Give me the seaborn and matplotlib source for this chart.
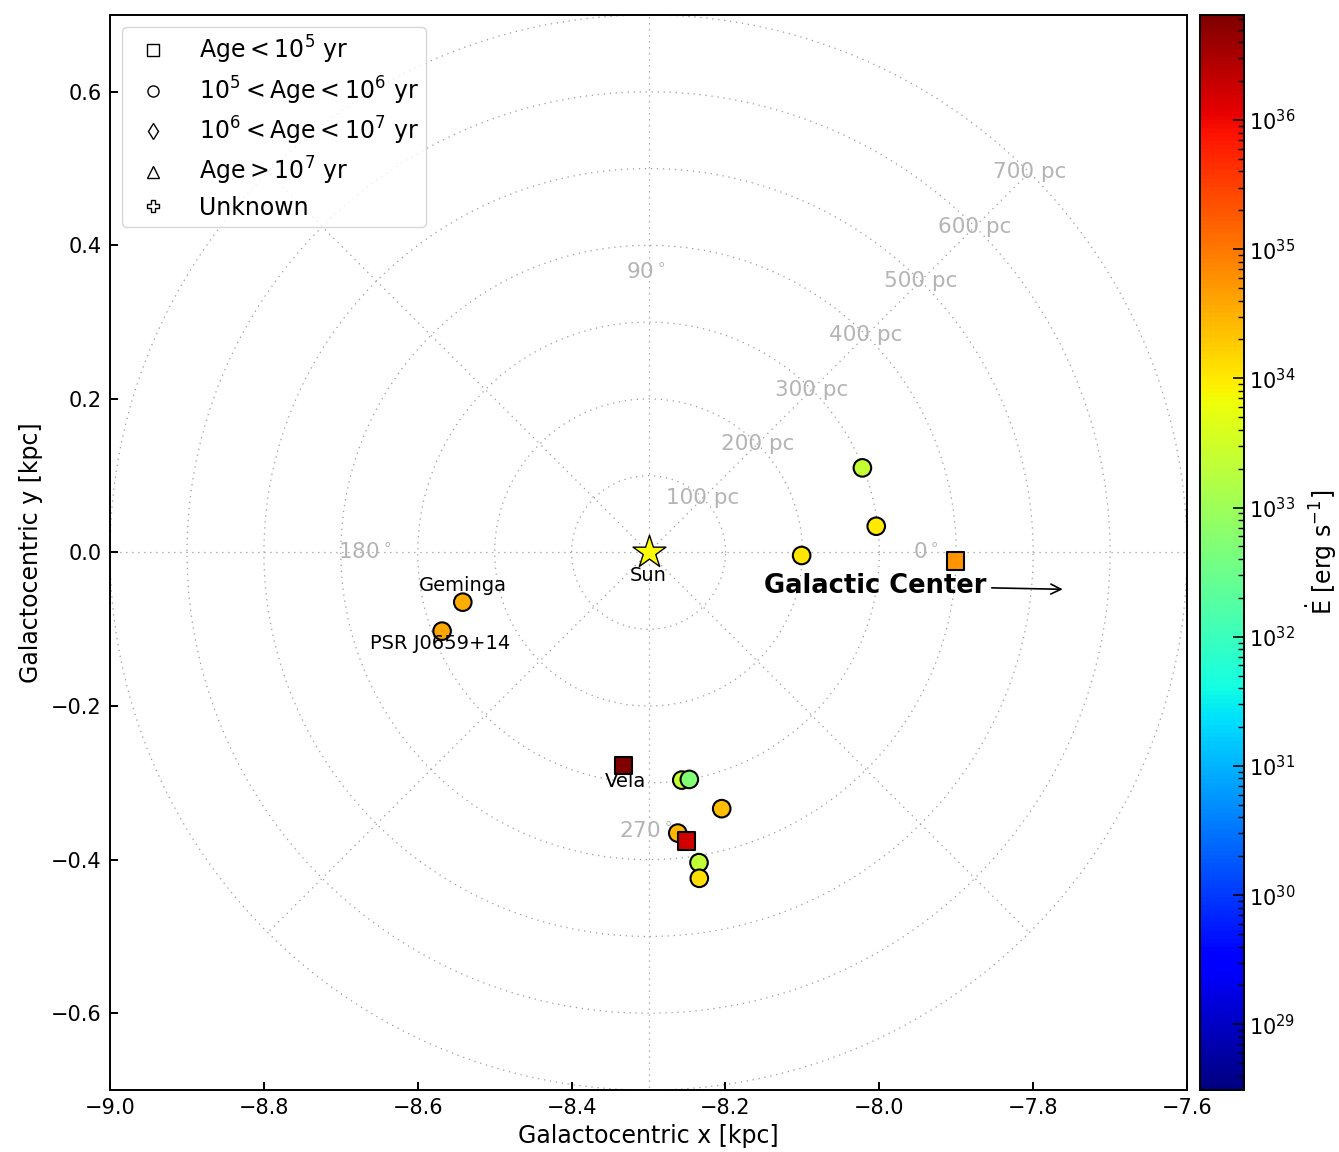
import numpy as np
import pandas as pd
import matplotlib
matplotlib.use("Agg")
import matplotlib.pyplot as plt
import matplotlib.colors as mcolors
from matplotlib.lines import Line2D
import seaborn as sns

# ---------------- data ----------------
gal_x = [-8.022, -8.004, -8.101, -7.901, -8.5415, -8.5684, -8.3328,
         -8.2568, -8.2470, -8.2049, -8.2620, -8.2504, -8.2344, -8.2340]
gal_y = [0.1102, 0.0342, -0.0039, -0.0113, -0.0647, -0.1024, -0.2772,
         -0.2964, -0.2955, -0.3336, -0.3654, -0.3758, -0.4039, -0.4243]
edot = [2.5e33, 1.0e34, 1.1e34, 5.6e34, 3.2e34, 3.8e34, 6.9e36,
        2.5e33, 5.0e32, 2.5e34, 2.8e34, 1.6e36, 2.2e33, 1.3e34]
age_class = ["1e5-1e6", "1e5-1e6", "1e5-1e6", "<1e5", "1e5-1e6", "1e5-1e6", "<1e5",
             "1e5-1e6", "1e5-1e6", "1e5-1e6", "1e5-1e6", "<1e5", "1e5-1e6", "1e5-1e6"]

named_names = ["Geminga", "PSR J0659+14", "Vela", "Sun"]
named_x = [-8.5415, -8.5715, -8.330, -8.3]
named_y = [-0.043, -0.118, -0.298, -0.030]

sun_x, sun_y = [-8.3], [0.0]
ring_radii_pc = [100, 200, 300, 400, 500, 600, 700]
angle_labels = ["0$^\\circ$", "90$^\\circ$", "180$^\\circ$", "270$^\\circ$"]
angle_label_x = [-7.94, -8.304, -8.669, -8.304]
angle_label_y = [0.0, 0.364, 0.0, -0.364]

x_ticks = [-9.0, -8.8, -8.6, -8.4, -8.2, -8.0, -7.8, -7.6]
y_ticks = [-0.6, -0.4, -0.2, 0.0, 0.2, 0.4, 0.6]
legend_labels = [r"Age$<10^5$ yr", r"$10^5<$Age$<10^6$ yr", r"$10^6<$Age$<10^7$ yr",
                 r"Age$>10^7$ yr", "Unknown"]
legend_markers = ["s", "o", "d", "^", "P"]
vmin, vmax = 3.1e28, 6.5e36

df = pd.DataFrame({"x": gal_x, "y": gal_y, "edot": edot, "age": age_class})

# ---------------- figure ----------------
fig = plt.figure(figsize=(13.39, 11.52), dpi=100)
ax = fig.add_axes([0.0822, 0.0538, 0.8043, 0.9332])
cax = fig.add_axes([0.8962, 0.0538, 0.0329, 0.9332])

ax.set_xlim(-9.0, -7.6)
ax.set_ylim(-0.7, 0.7)

grid_col = "#9a9a9a"
grid_ls = (0, (1, 3.8))
# rings
th = np.linspace(0, 2 * np.pi, 720)
for r_pc in ring_radii_pc:
    r = r_pc / 1000.0
    ax.plot(sun_x[0] + r * np.cos(th), sun_y[0] + r * np.sin(th), ls=grid_ls,
            color=grid_col, lw=0.9, zorder=1)
    a = np.deg2rad(45)
    ax.text(sun_x[0] + r * np.cos(a), sun_y[0] + r * np.sin(a), f"{r_pc} pc",
            color="#b4b4b4", fontsize=15.5, ha="center", va="center", zorder=2)
# spokes
rmax = ring_radii_pc[-1] / 1000.0
for ang in range(0, 360, 45):
    a = np.deg2rad(ang)
    ax.plot([sun_x[0], sun_x[0] + rmax * np.cos(a)],
            [sun_y[0], sun_y[0] + rmax * np.sin(a)],
            ls=grid_ls, color=grid_col, lw=0.9, zorder=1)
for lab, lx, ly in zip(angle_labels, angle_label_x, angle_label_y):
    ax.text(lx, ly, lab, color="#b4b4b4", fontsize=15.5, ha="center", va="center", zorder=2)

norm = mcolors.LogNorm(vmin=vmin, vmax=vmax)
cmap = matplotlib.colormaps["jet"]

sns.scatterplot(data=df, x="x", y="y", hue="edot", hue_norm=norm, palette=cmap,
                style="age", markers={"<1e5": "s", "1e5-1e6": "o"},
                s=160, edgecolor="black", linewidth=1.5, legend=False, ax=ax, zorder=5)

# Sun
ax.scatter(sun_x, sun_y, marker="*", s=620, color="yellow", edgecolor="black",
           linewidth=1.0, zorder=6)

for name, nx, ny in zip(named_names, named_x, named_y):
    ax.text(nx, ny, name, fontsize=14, ha="center", va="center", zorder=7)

ax.annotate("Galactic Center", xy=(-7.758, -0.048), xytext=(-8.0056, -0.043),
            fontsize=18.5, fontweight="bold", ha="center", va="center",
            arrowprops=dict(arrowstyle="->", color="black", lw=1.2,
                            mutation_scale=18), zorder=7)

ax.set_xticks(x_ticks)
ax.set_yticks(y_ticks)
ax.set_xticklabels([f"{v:.1f}".replace("-", "\u2212") for v in x_ticks])
ax.set_yticklabels([f"{v:.1f}".replace("-", "\u2212") for v in y_ticks])
ax.tick_params(direction="in", length=6, width=1.4, labelsize=15, pad=6)
for sp in ax.spines.values():
    sp.set_linewidth(1.4)
ax.set_xlabel("Galactocentric x [kpc]", fontsize=17, labelpad=4)
ax.set_ylabel("Galactocentric y [kpc]", fontsize=17, labelpad=6)

handles = [Line2D([0], [0], marker=m, ls="none", markerfacecolor="white",
                  markeredgecolor="black", markersize=8, markeredgewidth=1.0)
           for m in legend_markers]
ax.legend(handles, legend_labels, loc="upper left", fontsize=17, frameon=True,
          borderpad=0.3, handletextpad=0.95, labelspacing=0.35, handlelength=2.0)

sm = matplotlib.cm.ScalarMappable(norm=norm, cmap=cmap)
sm.set_array([])
cb = fig.colorbar(sm, cax=cax)
cb.ax.tick_params(which="both", direction="in", labelsize=15)
cb.ax.tick_params(which="major", length=8, width=1.2)
cb.ax.tick_params(which="minor", length=4, width=1.0)
cb.ax.xaxis.set_visible(False)
cb.outline.set_linewidth(1.4)
cb.set_label(r"$\dot{\mathrm{E}}$ [erg s$^{-1}$]", fontsize=17, labelpad=6)

fig.savefig("out.png", dpi=100)
